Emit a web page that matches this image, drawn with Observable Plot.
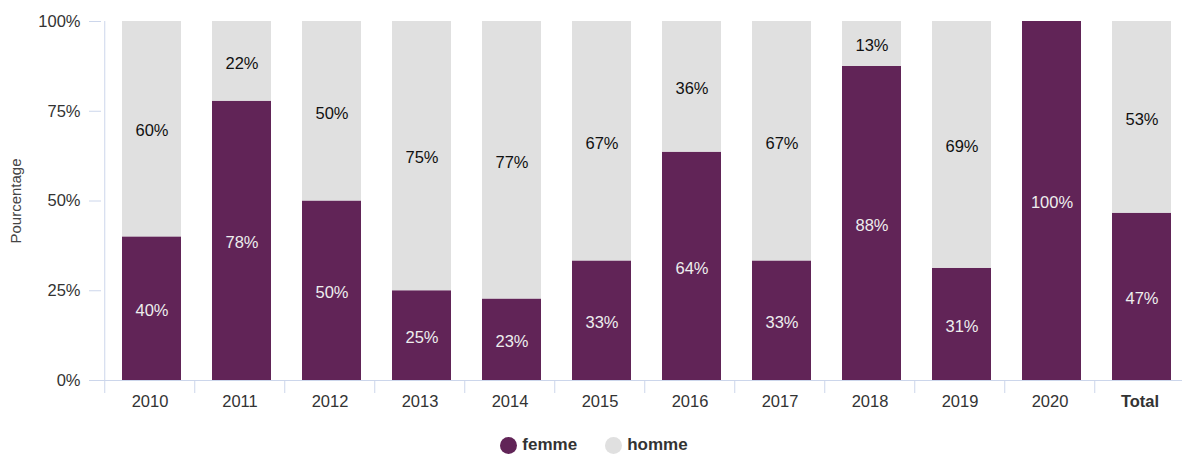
<!DOCTYPE html>
<html><head><meta charset="utf-8">
<script src="https://cdn.jsdelivr.net/npm/d3@7"></script>
<script src="https://cdn.jsdelivr.net/npm/@observablehq/plot@0.6"></script>
<style>
html,body{margin:0;padding:0;background:#fff;overflow:hidden;font-family:"Liberation Sans",Arial,sans-serif;}
#legend{display:flex;justify-content:center;align-items:center;height:20px;margin-top:10px;padding-left:6px;font-weight:bold;font-size:17px;color:#333}
.item{display:flex;align-items:center;margin:0 14px}
.dot{width:17px;height:17px;border-radius:50%;margin-right:5px}
</style></head><body>
<div id="chart"></div>
<div id="legend"></div>
<script>
const categories = ["2010","2011","2012","2013","2014","2015","2016","2017","2018","2019","2020","Total"];
const femme = [40, 77.8, 50, 25, 22.7, 33.3, 63.6, 33.3, 87.5, 31.25, 100, 46.6];
const homme = [60, 22.2, 50, 75, 77.3, 66.7, 36.4, 66.7, 12.5, 68.75, 0, 53.4];
const seriesNames = ["femme", "homme"];
const seriesColors = ["#612457", "#e0e0e0"];
const yTicks = [0, 25, 50, 75, 100];

const rows = categories.flatMap((c, i) => [
  {cat: c, sexe: seriesNames[0], value: femme[i]},
  {cat: c, sexe: seriesNames[1], value: homme[i]}
]);
const fmt = v => Math.round(v) + "%";
const axisColor = "#ccd6eb";
const halfStep = -45.25;
const fs = 16.5;

const chart = Plot.plot({
  width: 1182, height: 425,
  marginLeft: 101, marginRight: -5, marginTop: 21, marginBottom: 45,
  style: {fontFamily: "Liberation Sans, Arial, sans-serif", fontSize: fs + "px", background: "white"},
  x: {domain: categories, paddingInner: 0.348, paddingOuter: 0.174, axis: null},
  y: {domain: [0, 100], axis: null},
  color: {domain: seriesNames, range: seriesColors},
  marks: [
    Plot.barY(rows, {x: "cat", y: "value", fill: "sexe", dx: 2}),
    Plot.text(rows, Plot.stackY({x: "cat", y: "value", z: "sexe", dx: 2, dy: 2,
      text: d => d.sexe === "femme" && d.value > 0 ? fmt(d.value) : null,
      fill: "#eeeeee", fontSize: fs})),
    Plot.text(rows, Plot.stackY({x: "cat", y: "value", z: "sexe", dx: 2, dy: 2,
      text: d => d.sexe === "homme" && d.value > 0 ? fmt(d.value) : null,
      fill: "#111111", fontSize: fs})),
    Plot.ruleY([0], {stroke: axisColor}),
    Plot.ruleX([categories[0]], {x: d => d, y1: 0, y2: 100, dx: halfStep, stroke: axisColor}),
    Plot.ruleX(categories, {x: d => d, y1: 0, y2: 0, insetBottom: -13, dx: halfStep, stroke: axisColor}),
    Plot.axisY({ticks: yTicks, tickFormat: d => d + "%", tickSize: 12, tickPadding: 9,
      stroke: axisColor, fill: "#333", fontSize: fs, label: null}),
    Plot.axisY({ticks: [], label: "Pourcentage", labelArrow: "none", labelAnchor: "center", labelOffset: 91,
      fill: "#444", fontSize: 15}),
    Plot.axisX({ticks: categories.slice(0, -1), tickSize: 0, tickPadding: 15, fill: "#333", fontSize: fs, label: null}),
    Plot.axisX({ticks: categories.slice(-1), tickSize: 0, tickPadding: 15, fill: "#333", fontSize: fs, fontWeight: "bold", label: null})
  ]
});
document.getElementById("chart").appendChild(chart);

const legend = document.getElementById("legend");
seriesNames.forEach((n, i) => {
  const item = document.createElement("div");
  item.className = "item";
  const dot = document.createElement("span");
  dot.className = "dot";
  dot.style.background = seriesColors[i];
  const lab = document.createElement("span");
  lab.textContent = n;
  item.appendChild(dot); item.appendChild(lab);
  legend.appendChild(item);
});
</script>
</body></html>
